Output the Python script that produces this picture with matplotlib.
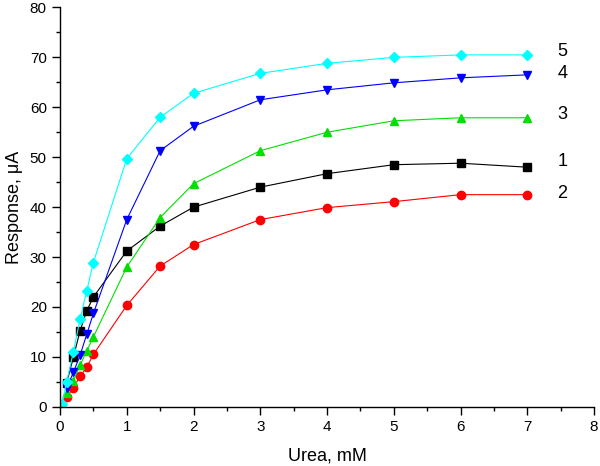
import numpy as np
import matplotlib.pyplot as plt
from matplotlib.ticker import MultipleLocator

plt.rcParams["font.family"] = ["Liberation Sans", "DejaVu Sans"]

# urea concentration, mM
urea = [0.1, 0.2, 0.3, 0.4, 0.5, 1, 1.5, 2, 3, 4, 5, 6, 7]

# responses, uA
resp_1 = [4.8, 9.9, 15.2, 19.2, 22.0, 31.2, 36.2, 40.0, 44.0, 46.7, 48.5, 48.8, 48.0]
resp_2 = [2.0, 3.8, 6.1, 7.9, 10.5, 20.3, 28.2, 32.5, 37.5, 39.9, 41.1, 42.5, 42.5]
resp_3 = [2.7, 5.2, 8.3, 11.2, 14.0, 28.0, 37.9, 44.7, 51.3, 55.0, 57.3, 57.9, 57.9]
resp_4 = [3.7, 6.9, 10.3, 14.5, 18.7, 37.5, 51.3, 56.2, 61.5, 63.5, 64.9, 65.9, 66.5]
resp_5 = [0.5, 5.0, 11.0, 17.5, 23.2, 28.9, 49.7, 58.0, 62.8, 66.8, 68.8, 70.0, 70.5, 70.5]
urea_5 = [0.03] + urea

series = [
    ("1", urea, resp_1, "black", "s"),
    ("2", urea, resp_2, "red", "o"),
    ("3", urea, resp_3, "#00e000", "^"),
    ("4", urea, resp_4, "#0000ff", "v"),
    ("5", urea_5, resp_5, "#00ffff", "D"),
]
label_y = {"1": 49.2, "2": 42.7, "3": 58.5, "4": 66.8, "5": 71.2}

fig = plt.figure(figsize=(6.0, 4.66), dpi=100)
ax = fig.add_axes([0.1, 0.127, 0.89, 0.857])

for name, x, y, col, mk in series:
    ms = 5.2 if mk == "D" else 6.0
    ax.plot(x, y, color=col, lw=0.8, marker=mk, ms=ms, mec=col, mfc=col)
    ax.text(7.45, label_y[name], name, fontsize=13, ha="left", va="center")

ax.set_xlim(0, 8)
ax.set_ylim(0, 80)
ax.xaxis.set_major_locator(MultipleLocator(1))
ax.xaxis.set_minor_locator(MultipleLocator(0.5))
ax.yaxis.set_major_locator(MultipleLocator(10))
ax.yaxis.set_minor_locator(MultipleLocator(5))
ax.tick_params(which="major", direction="out", length=6, width=1, labelsize=11)
ax.tick_params(which="minor", direction="out", length=3, width=1)
for s in ("top", "right"):
    ax.spines[s].set_visible(False)
for s in ("left", "bottom"):
    ax.spines[s].set_linewidth(1.0)

ax.set_xlabel("Urea, mM", fontsize=13, labelpad=10)
ax.set_ylabel("Response, \u03bcA", fontsize=13, labelpad=5)

fig.savefig("out.png", dpi=100)
